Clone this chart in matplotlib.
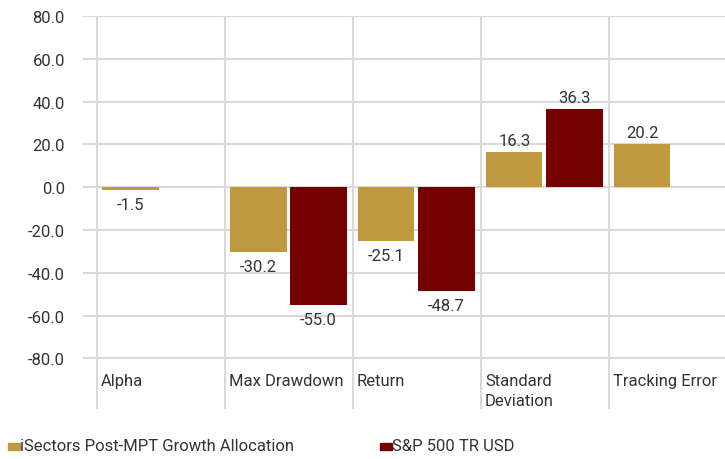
import matplotlib
matplotlib.use("Agg")
import matplotlib.pyplot as plt
from matplotlib.patches import Rectangle

categories = ["Alpha", "Max Drawdown", "Return", "Standard\nDeviation", "Tracking Error"]
series_names = ["iSectors Post-MPT Growth Allocation", "S&P 500 TR USD"]
fund = [-1.5, -30.2, -25.1, 16.3, 20.2]
bench = [None, -55.0, -48.7, 36.3, None]
yticks = [80, 60, 40, 20, 0, -20, -40, -60, -80]

gold = "#C09840"
red = "#740000"
grid = "#D9D9D9"
txt = "#333333"

plt.rcParams['font.family'] = ['Roboto', 'DejaVu Sans']
fs = 12

fig = plt.figure(figsize=(7.25, 4.6), dpi=100)
W, H = 725, 460
# axes spans x 83..725, y 17..410 pixels
ax = fig.add_axes([83 / W, 1 - 410 / H, (725 - 83) / W, (410 - 17) / H])
ax.set_xlim(-0.11, 4.906)
ax.set_ylim(-103.7, 80)
for s in ax.spines.values():
    s.set_visible(False)

for t in yticks:
    ax.axhline(t, color=grid, lw=1.5, zorder=0)
for i in range(len(categories)):
    ax.axvline(i, color=grid, lw=1.5, zorder=0)

bw = 0.44
for i, v in enumerate(fund):
    x0 = i + 0.04
    ax.bar(x0, v, width=bw, align='edge', color=gold, zorder=2)
    va = 'bottom' if v >= 0 else 'top'
    off = 3 if v >= 0 else -5
    ax.annotate(f"{v:.1f}", (x0 + bw / 2, v), xytext=(0, off), textcoords='offset points',
                ha='center', va=va, fontsize=fs, color=txt)
for i, v in enumerate(bench):
    if v is None:
        continue
    x0 = i + 0.51
    ax.bar(x0, v, width=bw, align='edge', color=red, zorder=2)
    va = 'bottom' if v >= 0 else 'top'
    off = 3 if v >= 0 else -5
    ax.annotate(f"{v:.1f}", (x0 + bw / 2, v), xytext=(0, off), textcoords='offset points',
                ha='center', va=va, fontsize=fs, color=txt)

for i, c in enumerate(categories):
    ax.text(i + 0.03, -87, c, ha='left', va='top', fontsize=fs, color=txt, linespacing=1.4)

ax.set_xticks([])
ax.set_yticks(yticks)
ax.set_yticklabels([f"{t:.1f}" for t in yticks], fontsize=fs, color=txt)
ax.tick_params(axis='y', length=0, pad=13)

# legend
leg_x = [8, 380]
for name, col, lx in zip(series_names, [gold, red], leg_x):
    fig.patches.append(Rectangle((lx / W, 1 - 451 / H), 12 / W, 7 / H,
                                 transform=fig.transFigure, color=col))
    fig.text((lx + 12) / W, 1 - 447 / H, name, ha='left', va='center', fontsize=fs, color=txt)

fig.savefig("out.png", dpi=100)
